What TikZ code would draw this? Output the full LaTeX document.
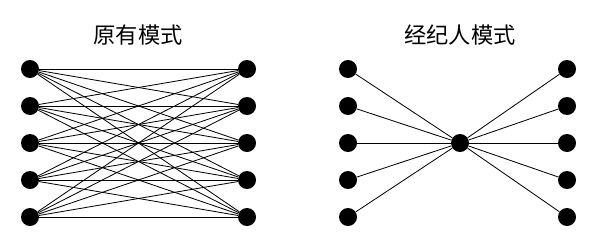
\documentclass[tikz,border=0pt]{standalone}
\usepackage{fontspec}
\newfontfamily\cjk{Noto Sans CJK SC}
\usetikzlibrary{positioning}
\tikzset{
  dot/.style={circle, fill=black, inner sep=0pt, minimum size=0.54cm},
  hub/.style={circle, fill=black, inner sep=0pt, minimum size=0.54cm},
  title/.style={font=\cjk\fontsize{19}{21}\selectfont, text=black},
  link/.style={draw=black, line width=0.7pt}
}
\begin{document}
\begin{tikzpicture}[x=0.03cm,y=-0.03cm]
    \useasboundingbox (0,0) rectangle (600,250);
    % original model: every left node to every right node
    \node[title] (t1) at (138,35) {原有模式};
    \foreach \i/\y in {1/69,2/106,3/143,4/180,5/217} {
      \node[dot] (a\i) at (30,\y) {};
      \node[dot] (b\i) at (247,\y) {};
    }
    \foreach \i in {1,...,5} {
      \foreach \j in {1,...,5} {
        \draw[link] (a\i) -- (b\j);
      }
    }
    % broker model: everything through one hub
    \node[title] (t2) at (460,35) {经纪人模式};
    \node[hub] (hub) at (460,143) {};
    \foreach \i/\y in {1/69,2/106,3/143,4/180,5/217} {
      \node[dot] (c\i) at (348,\y) {};
      \node[dot] (d\i) at (567,\y) {};
      \draw[link] (c\i) -- (hub);
      \draw[link] (hub) -- (d\i);
    }
\end{tikzpicture}
\end{document}
